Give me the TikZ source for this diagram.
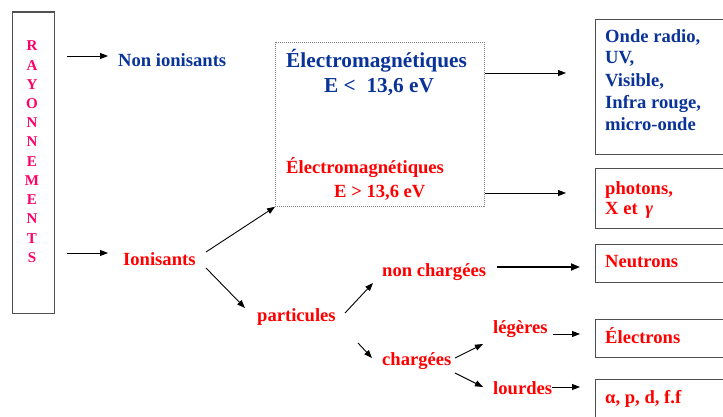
\documentclass[tikz,border=0pt]{standalone}
\usepackage{fontspec}
\setmainfont{Liberation Serif}
\usetikzlibrary{arrows.meta}
\definecolor{myblue}{RGB}{10,51,153}
\definecolor{myred}{RGB}{255,0,0}
\definecolor{mypink}{RGB}{255,0,102}
\definecolor{boxgray}{RGB}{80,80,80}
\tikzset{
  txt/.style={anchor=base west, inner sep=0pt, font=\bfseries\fontsize{18.6}{22}\selectfont},
  bl/.style={txt, text=myblue},
  rd/.style={txt, text=myred},
  arr/.style={-{Triangle[length=8pt,width=6pt]}, line width=0.9pt, black},
  rbox/.style={draw=boxgray, line width=1.3pt, anchor=north west, inner sep=0pt},
  letter/.style={anchor=base, inner sep=0pt, text=mypink, font=\bfseries\fontsize{15}{18}\selectfont}
}
\begin{document}
\begin{tikzpicture}[x=1pt,y=-1pt]
\useasboundingbox (0,0) rectangle (723,417);
% left box
\node[rbox, minimum width=42pt, minimum height=301pt] (ray) at (11.5,11.5) {};
\foreach \l [count=\i from 0] in {R,A,Y,O,N,N,E,M,E,N,T,S}
  \node[letter] (l\i) at (32,51+19.2*\i) {\l};
% first level
\node[bl] (nonion) at (118,67) {Non ionisants};
\node[rd] (ion) at (123,265) {Ionisants};
\coordinate (a1s) at (67,56);
\coordinate (a1e) at (108,56);
\coordinate (a2s) at (67,253);
\coordinate (a2e) at (108,253);
\draw[arr] (a1s) -- (a1e);
\draw[arr] (a2s) -- (a2e);
% middle dotted box
\node[draw=gray, dash pattern=on 1pt off 1pt, line width=0.8pt, anchor=north west, minimum width=209pt, minimum height=164pt, inner sep=0pt] (mid) at (275,42) {};
\node[txt, text=myblue, font=\bfseries\fontsize{21.3}{24}\selectfont] (em1) at (286,68) {Électromagnétiques};
\node[txt, text=myblue, font=\bfseries\fontsize{21.3}{24}\selectfont] (e1) at (324,93) {E <~ 13,6 eV};
\node[rd] (em2) at (286,174) {Électromagnétiques};
\node[rd] (e2) at (334,197) {E > 13,6 eV};
% right boxes
\node[rbox, minimum width=140pt, minimum height=135pt] (b1) at (595,19) {};
\node[rbox, minimum width=140pt, minimum height=60pt] (b2) at (595,168) {};
\node[rbox, minimum width=140pt, minimum height=38pt] (b3) at (595,244) {};
\node[rbox, minimum width=140pt, minimum height=38pt] (b4) at (595,319) {};
\node[rbox, minimum width=140pt, minimum height=38pt] (b5) at (595,379) {};
\node[bl] (t1) at (605,43) {Onde radio,};
\node[bl] (t2) at (605,64) {UV,};
\node[bl] (t3) at (605,87) {Visible,};
\node[bl] (t4) at (605,109) {Infra rouge,};
\node[bl] (t5) at (605,131) {micro-onde};
\node[rd] (t6) at (605,194) {photons,};
\node[rd] (t7) at (605,214) {X et \,\textit{γ}};
\node[rd] (t8) at (605,267) {Neutrons};
\node[rd] (t9) at (605,343) {Électrons};
\node[rd] (t10) at (605,403) {α, p, d, f.f};
\coordinate (m1) at (566,73);
\coordinate (m2) at (566,193);
\draw[arr] (mid.east |- m1) -- (m1);
\draw[arr] (mid.east |- m2) -- (m2);
% particles branch
\node[rd] (part) at (257,321) {particules};
\node[rd] (nch) at (382,276) {non chargées};
\node[rd] (ch) at (382,365) {chargées};
\node[rd] (leg) at (493,333) {légères};
\node[rd] (lou) at (493,394) {lourdes};
\coordinate (i1) at (206,252);
\coordinate (i2) at (206,268);
\coordinate (i2e) at (245,308);
\coordinate (p1) at (345,313);
\coordinate (p1e) at (373,283);
\coordinate (p2) at (358,343);
\coordinate (p2e) at (372,358);
\coordinate (c1) at (455,358);
\coordinate (c1e) at (483,344);
\coordinate (c2) at (455,373);
\coordinate (c2e) at (483,387);
\coordinate (n1) at (497,267);
\coordinate (n1e) at (580,267);
\coordinate (g1) at (553,334);
\coordinate (g1e) at (580,334);
\coordinate (o1) at (552,387);
\coordinate (o1e) at (580,387);
\draw[arr] (i1) -- (mid.south west);
\draw[arr] (i2) -- (i2e);
\draw[arr] (p1) -- (p1e);
\draw[arr] (p2) -- (p2e);
\draw[arr] (c1) -- (c1e);
\draw[arr] (c2) -- (c2e);
\draw[-{Triangle[length=9pt,width=7pt]}, line width=1.8pt] (n1) -- (n1e);
\draw[arr] (g1) -- (g1e);
\draw[arr] (o1) -- (o1e);
\end{tikzpicture}
\end{document}
